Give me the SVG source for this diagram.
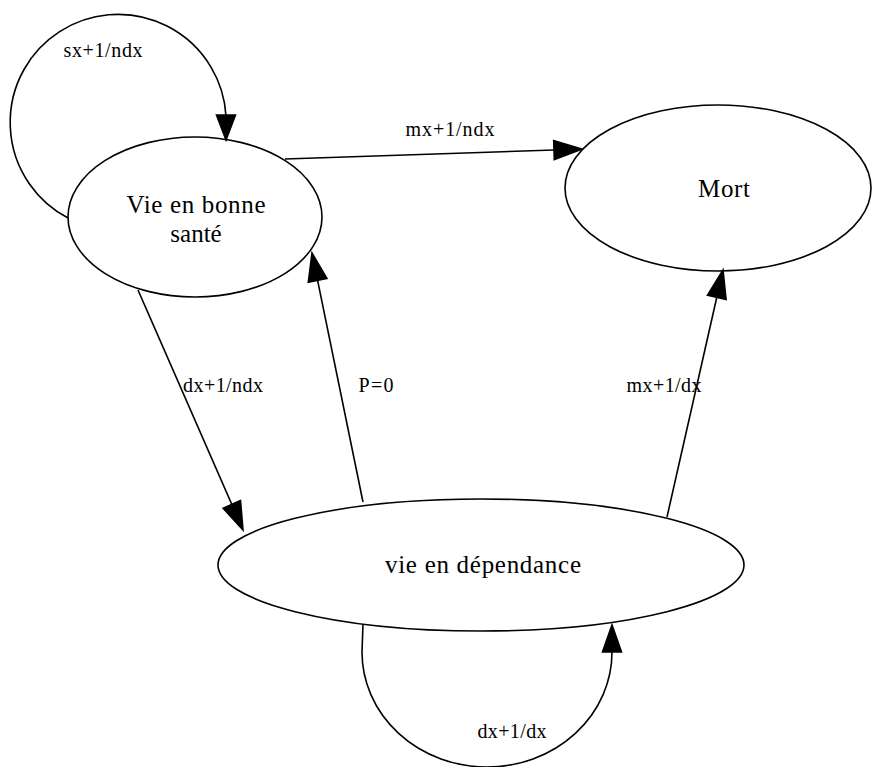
<svg xmlns="http://www.w3.org/2000/svg" width="872" height="767" viewBox="0 0 872 767">
<style>
.node ellipse{fill:none;stroke:#000;stroke-width:1.6}
.edge path{fill:none;stroke:#000;stroke-width:1.6}
.edge polygon{fill:#000;stroke:#000;stroke-width:1.6}
.nt{font-family:"Liberation Serif",serif;font-size:25px;fill:#000;text-anchor:middle}
.lt{font-family:"Liberation Serif",serif;font-size:20px;fill:#000;text-anchor:middle}
</style>
<rect width="872" height="767" fill="#fff"/>
<g id="n_sante" class="node">
<ellipse cx="195" cy="217" rx="127" ry="80"/>
<text class="nt" x="196" y="213" textLength="139" lengthAdjust="spacing">Vie en bonne</text>
<text class="nt" x="196" y="242">santé</text>
</g>
<g id="n_mort" class="node">
<ellipse cx="718" cy="188" rx="153" ry="83"/>
<text class="nt" x="724" y="197" textLength="52" lengthAdjust="spacing">Mort</text>
</g>
<g id="n_dep" class="node">
<ellipse cx="481" cy="565" rx="263" ry="66"/>
<text class="nt" x="483" y="573" textLength="196" lengthAdjust="spacing">vie en dépendance</text>
</g>
<g id="edges" class="edge">
<g id="e_sante_sante">
<path d="M68,218 A108,108 0 1 1 226,116"/>
<polygon points="216.5,115 235.5,115 226,140"/>
<text class="lt" x="103" y="57" textLength="79" lengthAdjust="spacing">sx+1/ndx</text>
</g>
<g id="e_sante_mort">
<path d="M285,159 L554,150"/>
<polygon points="554.3,159.5 553.7,140.5 582,149"/>
<text class="lt" x="450" y="136" textLength="89" lengthAdjust="spacing">mx+1/ndx</text>
</g>
<g id="e_sante_dep">
<path d="M138,290 L231.8,504.4"/>
<polygon points="240.5,500.6 223.1,508.2 243,530"/>
<text class="lt" x="223" y="392" textLength="80" lengthAdjust="spacing">dx+1/ndx</text>
</g>
<g id="e_dep_sante">
<path d="M363,502 L317.6,280.4"/>
<polygon points="326.9,278.5 308.3,282.3 312,253"/>
<text class="lt" x="376" y="392" textLength="35" lengthAdjust="spacing">P=0</text>
</g>
<g id="e_dep_mort">
<path d="M667,517 L716.8,297.3"/>
<polygon points="726.1,299.4 707.5,295.2 723,270"/>
<text class="lt" x="664" y="392" textLength="75" lengthAdjust="spacing">mx+1/dx</text>
</g>
<g id="e_dep_dep">
<path d="M363,624 L362,652 A125,115 0 0 0 612,652"/>
<polygon points="602.5,652 621.5,652 612,625"/>
<text class="lt" x="512" y="738" textLength="69" lengthAdjust="spacing">dx+1/dx</text>
</g>
</g>
</svg>
